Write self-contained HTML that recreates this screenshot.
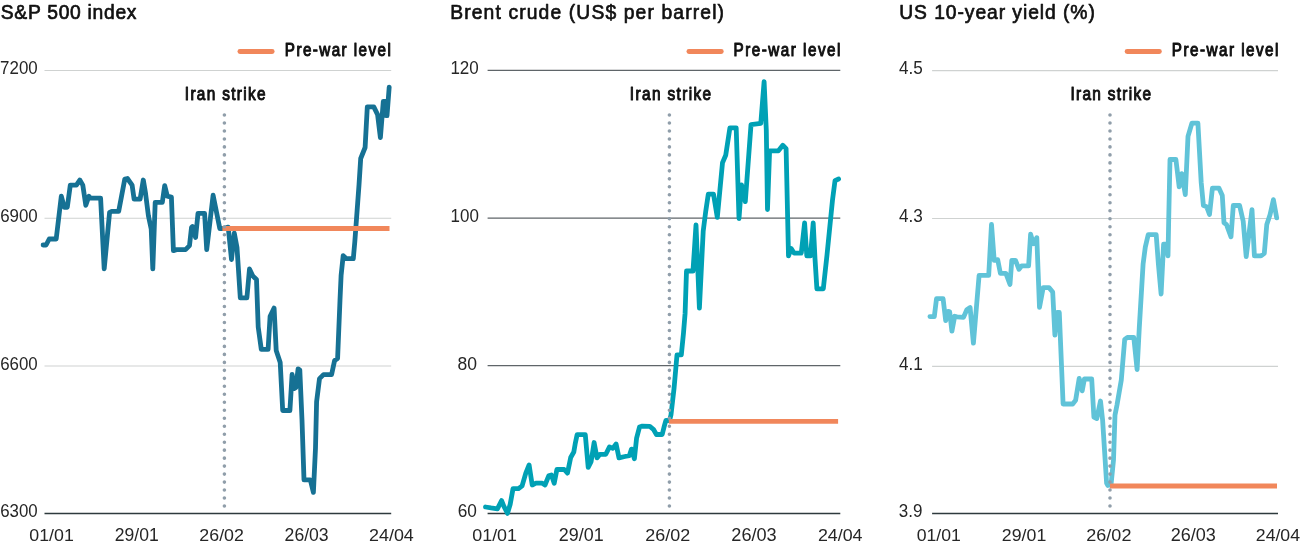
<!DOCTYPE html>
<html><head><meta charset="utf-8"><style>
html,body{margin:0;padding:0;background:#fff;overflow:hidden;}
svg{display:block;font-family:"Liberation Sans", sans-serif;will-change:transform;}
</style></head><body>
<svg width="1301" height="546" viewBox="0 0 1301 546">
<rect width="1301" height="546" fill="#fff"/>
<line x1="44.5" x2="391.2" y1="70.5" y2="70.5" stroke="#cfd2d1" stroke-width="1.1"/>
<line x1="44.5" x2="391.2" y1="218.3" y2="218.3" stroke="#cfd2d1" stroke-width="1.1"/>
<line x1="44.5" x2="391.2" y1="366.0" y2="366.0" stroke="#cfd2d1" stroke-width="1.1"/>
<line x1="44.5" x2="391.2" y1="513.5" y2="513.5" stroke="#2e3a3d" stroke-width="1.4"/>
<line x1="239.9" x2="272.20000000000005" y1="51.5" y2="51.5" stroke="#f1875b" stroke-width="4.8" stroke-linecap="round"/>
<polyline points="43.1,245.0 46.1,245.0 49.2,239.0 56.2,239.0 61.3,196.2 64.3,207.3 67.3,207.3 70.3,185.1 76.4,185.1 79.8,180.0 82.8,185.1 85.8,205.3 88.9,196.2 90.5,198.2 100.6,198.2 104.2,268.8 109.6,212.3 111.7,211.3 118.7,211.3 124.8,179.0 127.4,178.5 132.1,185.1 134.1,199.2 140.1,199.2 143.3,180.0 145.5,193.0 148.4,215.8 151.2,229.0 152.8,268.8 155.2,202.3 162.3,202.3 164.7,185.7 167.3,196.2 171.4,197.2 173.4,250.6 176.4,249.6 185.5,249.6 189.5,245.6 191.5,227.5 192.5,226.5 195.6,237.5 198.0,213.3 204.6,213.3 206.7,249.6 213.1,195.2 219.8,228.5 223.8,228.5 228.2,227.1 231.5,259.5 234.3,233.1 237.0,247.4 240.3,297.9 246.9,297.9 249.5,268.9 252.8,275.9 256.5,279.4 258.2,327.0 261.3,349.4 268.1,349.4 270.1,316.2 274.1,308.1 276.2,350.4 280.2,362.5 282.7,410.5 289.9,410.5 292.1,374.3 294.3,388.6 295.9,387.5 298.1,368.8 299.8,369.9 302.0,420.0 304.0,479.8 310.3,479.8 313.4,492.4 315.5,448.2 316.6,401.8 319.5,378.6 323.5,374.6 331.6,374.6 334.6,360.5 337.6,358.5 340.0,300.0 341.1,275.6 343.2,255.6 346.3,258.7 353.3,258.7 354.8,241.9 359.0,185.0 360.7,158.5 365.1,147.5 367.3,106.9 373.8,106.9 377.6,114.6 380.4,137.6 383.3,101.4 385.5,101.4 385.9,115.7 387.0,115.7 389.2,87.1" fill="none" stroke="#167194" stroke-width="4.8" stroke-linejoin="round" stroke-linecap="round"/>
<line x1="222.4" x2="389.5" y1="228.5" y2="228.5" stroke="#f1875b" stroke-width="4.8"/>
<line x1="224.4" x2="224.4" y1="115" y2="507.5" stroke="#909eaa" stroke-width="3.6" stroke-linecap="round" stroke-dasharray="0 7.98"/>
<line x1="487.6" x2="840.3" y1="70.4" y2="70.4" stroke="#5f6569" stroke-width="1.1"/>
<line x1="487.6" x2="840.3" y1="218.1" y2="218.1" stroke="#5f6569" stroke-width="1.1"/>
<line x1="487.6" x2="840.3" y1="365.6" y2="365.6" stroke="#5f6569" stroke-width="1.1"/>
<line x1="487.6" x2="840.3" y1="513.5" y2="513.5" stroke="#2e3a3d" stroke-width="1.4"/>
<line x1="688.9" x2="721.3000000000001" y1="51.5" y2="51.5" stroke="#f1875b" stroke-width="4.8" stroke-linecap="round"/>
<polyline points="485.5,507.0 491.0,507.9 497.4,508.8 501.6,500.6 503.8,506.1 507.5,513.4 510.2,504.2 513.0,488.7 518.5,488.7 522.1,485.9 525.8,473.1 529.1,464.9 532.2,485.0 535.9,483.2 542.3,483.2 545.0,485.0 548.7,475.9 551.4,475.0 554.2,483.2 556.9,469.5 564.2,469.5 567.5,473.1 570.7,457.5 573.8,452.0 575.2,443.8 577.1,434.7 585.3,434.7 588.2,467.4 591.1,461.6 594.1,442.5 597.0,457.9 599.9,454.3 605.8,454.3 609.5,446.9 612.8,448.4 616.1,444.0 619.0,457.9 624.9,456.5 629.3,455.7 631.5,449.1 634.4,458.7 636.6,438.1 639.5,427.1 642.4,426.1 649.8,426.4 653.4,429.3 656.4,434.5 662.2,434.5 664.4,425.7 665.9,420.5 669.6,420.5 671.0,414.7 674.1,387.9 677.0,354.9 681.3,354.9 683.5,333.0 685.1,313.2 686.5,271.0 693.0,271.0 696.0,224.9 699.4,308.2 703.2,231.3 705.8,210.8 708.3,194.1 713.5,194.1 717.3,217.4 722.5,162.7 725.7,155.3 729.9,127.9 736.2,127.9 739.0,218.5 741.5,184.8 745.3,201.6 751.0,124.7 760.8,123.4 764.1,81.6 766.3,130.0 767.5,209.5 769.6,150.8 778.4,150.8 782.8,145.3 786.1,148.6 788.5,255.9 791.2,248.5 794.0,253.1 801.3,253.1 804.6,222.9 806.8,255.9 810.5,255.9 813.2,222.9 815.0,258.6 816.9,288.8 823.3,288.8 827.0,255.0 832.5,200.0 835.0,180.7 838.6,179.0" fill="none" stroke="#00a1b5" stroke-width="4.8" stroke-linejoin="round" stroke-linecap="round"/>
<line x1="668.8" x2="838.1" y1="421.4" y2="421.4" stroke="#f1875b" stroke-width="4.8"/>
<line x1="669.4" x2="669.4" y1="115" y2="507.5" stroke="#909eaa" stroke-width="3.6" stroke-linecap="round" stroke-dasharray="0 7.98"/>
<line x1="932.1" x2="1278.0" y1="70.6" y2="70.6" stroke="#cfd2d1" stroke-width="1.1"/>
<line x1="932.1" x2="1278.0" y1="218.5" y2="218.5" stroke="#cfd2d1" stroke-width="1.1"/>
<line x1="932.1" x2="1278.0" y1="366.4" y2="366.4" stroke="#cfd2d1" stroke-width="1.1"/>
<line x1="932.1" x2="1278.0" y1="513.5" y2="513.5" stroke="#2e3a3d" stroke-width="1.4"/>
<line x1="1127.1000000000001" x2="1159.3999999999999" y1="51.5" y2="51.5" stroke="#f1875b" stroke-width="4.8" stroke-linecap="round"/>
<polyline points="929.9,316.6 934.3,316.6 936.5,298.7 943.1,298.7 945.7,320.7 948.1,311.4 949.7,311.9 951.9,331.2 954.7,316.3 956.9,316.9 963.5,317.4 966.8,309.7 970.1,307.5 973.4,343.2 979.1,275.4 988.7,275.4 991.5,224.5 994.2,260.3 997.7,259.6 1000.4,273.4 1005.9,273.4 1010.0,284.4 1011.8,260.3 1015.5,260.3 1019.0,269.3 1021.7,265.8 1028.6,265.8 1030.6,234.2 1033.4,243.8 1036.8,237.7 1039.5,307.4 1043.2,287.6 1049.0,287.6 1052.7,292.0 1054.9,335.2 1057.1,312.5 1059.3,312.5 1063.1,404.0 1072.7,404.0 1075.6,400.3 1079.2,378.3 1082.2,390.8 1084.4,379.0 1091.7,379.0 1093.9,417.1 1096.8,418.6 1100.5,401.0 1102.6,420.0 1106.6,483.2 1107.8,485.5 1111.0,485.0 1113.5,460.0 1115.0,415.0 1117.0,405.0 1121.3,380.0 1124.7,339.4 1127.4,337.5 1133.8,337.5 1137.1,369.6 1139.3,327.5 1143.1,264.0 1145.3,247.1 1148.2,234.7 1156.2,234.7 1158.4,264.0 1161.1,294.0 1163.6,244.2 1166.5,244.2 1168.0,255.9 1168.7,220.0 1170.0,159.5 1175.9,159.5 1179.2,186.9 1181.8,173.7 1185.3,194.6 1188.0,136.4 1191.9,123.2 1197.9,123.2 1201.2,182.5 1203.4,205.6 1206.6,206.7 1209.5,214.4 1212.4,188.2 1219.0,188.2 1222.3,195.6 1224.0,222.8 1226.4,224.4 1231.0,236.8 1233.3,205.5 1239.6,205.5 1243.2,221.2 1246.2,256.6 1252.0,209.6 1254.4,255.8 1261.0,255.8 1264.3,253.3 1266.8,224.4 1270.1,214.6 1273.4,199.7 1276.7,217.9" fill="none" stroke="#60c3d8" stroke-width="4.8" stroke-linejoin="round" stroke-linecap="round"/>
<line x1="1110.0" x2="1277.0" y1="486.0" y2="486.0" stroke="#f1875b" stroke-width="4.8"/>
<line x1="1110.0" x2="1110.0" y1="115" y2="507.5" stroke="#909eaa" stroke-width="3.6" stroke-linecap="round" stroke-dasharray="0 7.98"/>
<text transform="matrix(0.92,0,0,1,0.82,0)" x="0" y="19.00" font-size="21.00" fill="#111" stroke="#111" stroke-width="0.7" stroke-linejoin="round" textLength="147.44" lengthAdjust="spacing">S&amp;P 500 index</text>
<text transform="matrix(0.92,0,0,1,450.17,0)" x="0" y="19.00" font-size="21.00" fill="#111" stroke="#111" stroke-width="0.7" stroke-linejoin="round" textLength="297.68" lengthAdjust="spacing">Brent crude (US$ per barrel)</text>
<text transform="matrix(0.92,0,0,1,899.24,0)" x="0" y="19.00" font-size="21.00" fill="#111" stroke="#111" stroke-width="0.7" stroke-linejoin="round" textLength="212.61" lengthAdjust="spacing">US 10-year yield (%)</text>
<text transform="matrix(0.87,0,0,1,284.86,0)" x="0" y="56.00" font-size="17.50" fill="#111" stroke="#111" stroke-width="1.0" stroke-linejoin="round" textLength="121.76" lengthAdjust="spacing">Pre-war level</text>
<text transform="matrix(0.87,0,0,1,733.51,0)" x="0" y="56.00" font-size="17.50" fill="#111" stroke="#111" stroke-width="1.0" stroke-linejoin="round" textLength="122.98" lengthAdjust="spacing">Pre-war level</text>
<text transform="matrix(0.87,0,0,1,1171.83,0)" x="0" y="56.00" font-size="17.50" fill="#111" stroke="#111" stroke-width="1.0" stroke-linejoin="round" textLength="122.46" lengthAdjust="spacing">Pre-war level</text>
<text transform="matrix(0.87,0,0,1,184.83,0)" x="0" y="100.00" font-size="17.70" fill="#111" stroke="#111" stroke-width="1.0" stroke-linejoin="round" textLength="92.89" lengthAdjust="spacing">Iran strike</text>
<text transform="matrix(0.87,0,0,1,629.83,0)" x="0" y="100.00" font-size="17.70" fill="#111" stroke="#111" stroke-width="1.0" stroke-linejoin="round" textLength="93.36" lengthAdjust="spacing">Iran strike</text>
<text transform="matrix(0.87,0,0,1,1070.40,0)" x="0" y="100.00" font-size="17.70" fill="#111" stroke="#111" stroke-width="1.0" stroke-linejoin="round" textLength="92.74" lengthAdjust="spacing">Iran strike</text>
<text x="0.11" y="74.00" font-size="18.00" fill="#262626" textLength="37.59" lengthAdjust="spacingAndGlyphs">7200</text>
<text x="0.21" y="222.00" font-size="18.71" fill="#262626" textLength="37.54" lengthAdjust="spacingAndGlyphs">6900</text>
<text x="0.22" y="370.00" font-size="18.67" fill="#262626" textLength="37.53" lengthAdjust="spacingAndGlyphs">6600</text>
<text x="0.20" y="517.00" font-size="18.24" fill="#262626" textLength="37.54" lengthAdjust="spacingAndGlyphs">6300</text>
<text x="450.41" y="74.00" font-size="18.00" fill="#262626" textLength="28.38" lengthAdjust="spacingAndGlyphs">120</text>
<text x="450.57" y="222.00" font-size="18.00" fill="#262626" textLength="28.28" lengthAdjust="spacingAndGlyphs">100</text>
<text x="457.54" y="370.00" font-size="18.47" fill="#262626" textLength="19.51" lengthAdjust="spacingAndGlyphs">80</text>
<text x="457.72" y="517.00" font-size="18.79" fill="#262626" textLength="19.17" lengthAdjust="spacingAndGlyphs">60</text>
<text x="898.92" y="74.00" font-size="18.00" fill="#262626" textLength="23.82" lengthAdjust="spacingAndGlyphs">4.5</text>
<text x="898.92" y="222.00" font-size="18.00" fill="#262626" textLength="23.84" lengthAdjust="spacingAndGlyphs">4.3</text>
<text x="898.92" y="370.00" font-size="18.00" fill="#262626" textLength="23.76" lengthAdjust="spacingAndGlyphs">4.1</text>
<text x="898.84" y="517.00" font-size="18.24" fill="#262626" textLength="23.63" lengthAdjust="spacingAndGlyphs">3.9</text>
<text x="29.27" y="541.00" font-size="17.32" fill="#262626" textLength="44.53" lengthAdjust="spacingAndGlyphs">01/01</text>
<text x="114.75" y="541.00" font-size="17.47" fill="#262626" textLength="43.94" lengthAdjust="spacingAndGlyphs">29/01</text>
<text x="199.37" y="541.00" font-size="17.40" fill="#262626" textLength="44.55" lengthAdjust="spacingAndGlyphs">26/02</text>
<text x="284.62" y="541.00" font-size="17.50" fill="#262626" textLength="44.04" lengthAdjust="spacingAndGlyphs">26/03</text>
<text x="369.05" y="541.00" font-size="17.32" fill="#262626" textLength="44.75" lengthAdjust="spacingAndGlyphs">24/04</text>
<text x="472.22" y="541.00" font-size="17.32" fill="#262626" textLength="44.81" lengthAdjust="spacingAndGlyphs">01/01</text>
<text x="558.86" y="541.00" font-size="17.54" fill="#262626" textLength="44.77" lengthAdjust="spacingAndGlyphs">29/01</text>
<text x="645.24" y="541.00" font-size="17.36" fill="#262626" textLength="44.91" lengthAdjust="spacingAndGlyphs">26/02</text>
<text x="731.30" y="541.00" font-size="17.51" fill="#262626" textLength="45.40" lengthAdjust="spacingAndGlyphs">26/03</text>
<text x="817.95" y="541.00" font-size="17.32" fill="#262626" textLength="44.59" lengthAdjust="spacingAndGlyphs">24/04</text>
<text x="916.74" y="541.00" font-size="17.32" fill="#262626" textLength="44.18" lengthAdjust="spacingAndGlyphs">01/01</text>
<text x="1001.88" y="541.00" font-size="17.36" fill="#262626" textLength="44.40" lengthAdjust="spacingAndGlyphs">29/01</text>
<text x="1086.35" y="541.00" font-size="17.36" fill="#262626" textLength="45.06" lengthAdjust="spacingAndGlyphs">26/02</text>
<text x="1170.73" y="541.00" font-size="17.55" fill="#262626" textLength="45.15" lengthAdjust="spacingAndGlyphs">26/03</text>
<text x="1255.82" y="541.00" font-size="17.32" fill="#262626" textLength="44.22" lengthAdjust="spacingAndGlyphs">24/04</text>
</svg>
</body></html>
